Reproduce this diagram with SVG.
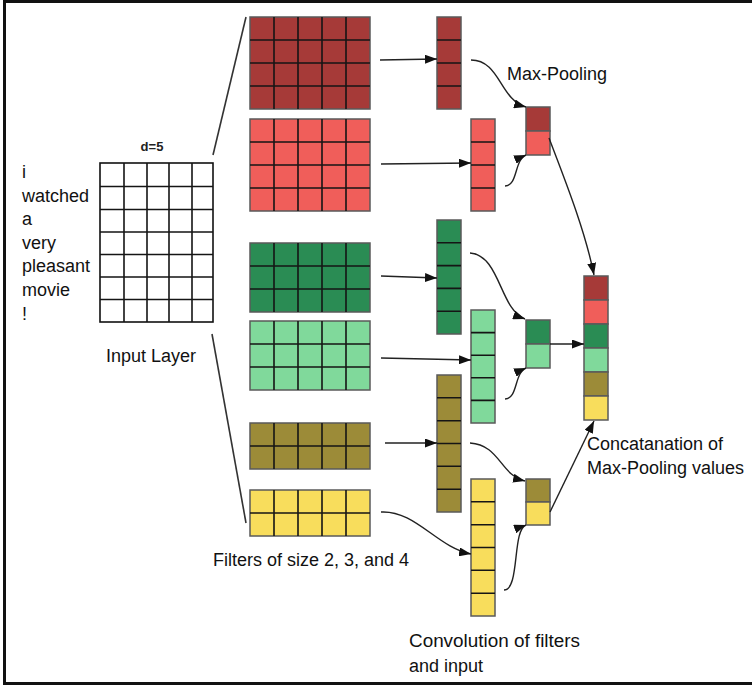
<svg xmlns="http://www.w3.org/2000/svg" width="752" height="687" viewBox="0 0 752 687">
<style>
.t{font-family:"Liberation Sans",Arial,sans-serif;font-size:18px;fill:#111}
.d5{font-family:"Liberation Sans",Arial,sans-serif;font-size:13px;font-weight:bold;fill:#222}
.cell{stroke:#5a5a5a;stroke-width:1.5}
.grid{stroke:#151515;stroke-width:1.6;fill:none}
.dr{fill:#a63a38}.lr{fill:#f05e5a}.dg{fill:#2a8c54}.lg{fill:#80d99b}.ol{fill:#9c8b38}.ye{fill:#f8dd5c}
.inp{fill:#fff;stroke:#111;stroke-width:1.6}
.conn{fill:none;stroke:#222;stroke-width:1.4}
.lead{fill:none;stroke:#333;stroke-width:1.6}
</style>
<defs>
<marker id="ah" markerUnits="userSpaceOnUse" markerWidth="13" markerHeight="9" refX="12" refY="4.5" orient="auto">
<path d="M0,0 L12,4.5 L0,9 z" fill="#111"/>
</marker>
</defs>
<rect width="752" height="687" fill="#fff"/>
<rect x="4.5" y="1.5" width="760" height="682" fill="none" stroke="#111" stroke-width="3"/>

<g id="input-layer">
<rect class="inp" x="100" y="163" width="113" height="159"/>
<path class="grid" d="M124,163V322M147,163V322M169,163V322M192,163V322M100,186.5H213M100,209.5H213M100,232H213M100,254.5H213M100,277H213M100,299.5H213"/>
<text class="d5" x="152" y="151" text-anchor="middle">d=5</text>
<text class="t" x="22" y="178">i</text>
<text class="t" x="22" y="201.5">watched</text>
<text class="t" x="22" y="225">a</text>
<text class="t" x="22" y="248.5">very</text>
<text class="t" x="22" y="272">pleasant</text>
<text class="t" x="22" y="296">movie</text>
<text class="t" x="22" y="320">!</text>
<text class="t" x="106" y="362">Input Layer</text>
</g>

<g id="filter-dark-red">
<rect class="dr cell" x="250" y="17" width="120" height="92"/>
<path class="grid" d="M274,17V109M298,17V109M322,17V109M346,17V109M250,40H370M250,63H370M250,86H370"/>
</g>
<g id="filter-light-red">
<rect class="lr cell" x="250" y="119" width="120" height="92"/>
<path class="grid" d="M274,119V211M298,119V211M322,119V211M346,119V211M250,142H370M250,165H370M250,188H370"/>
</g>
<g id="filter-dark-green">
<rect class="dg cell" x="250" y="243" width="120" height="69"/>
<path class="grid" d="M274,243V312M298,243V312M322,243V312M346,243V312M250,266H370M250,289H370"/>
</g>
<g id="filter-light-green">
<rect class="lg cell" x="250" y="321" width="120" height="69"/>
<path class="grid" d="M274,321V390M298,321V390M322,321V390M346,321V390M250,344H370M250,367H370"/>
</g>
<g id="filter-olive">
<rect class="ol cell" x="250" y="423" width="120" height="46"/>
<path class="grid" d="M274,423V469M298,423V469M322,423V469M346,423V469M250,446H370"/>
</g>
<g id="filter-yellow">
<rect class="ye cell" x="250" y="490" width="120" height="46"/>
<path class="grid" d="M274,490V536M298,490V536M322,490V536M346,490V536M250,513H370"/>
</g>
<g id="filters-label">
<text class="t" x="213" y="566">Filters of size 2, 3, and 4</text>
</g>

<g id="conv-dark-red">
<rect class="dr cell" x="437" y="17" width="24" height="92"/>
<path class="grid" d="M437,40H461M437,63H461M437,86H461"/>
</g>
<g id="conv-light-red">
<rect class="lr cell" x="471" y="119" width="24" height="92"/>
<path class="grid" d="M471,142H495M471,165H495M471,188H495"/>
</g>
<g id="conv-dark-green">
<rect class="dg cell" x="437" y="220" width="24" height="114"/>
<path class="grid" d="M437,242.8H461M437,265.6H461M437,288.4H461M437,311.2H461"/>
</g>
<g id="conv-light-green">
<rect class="lg cell" x="471" y="310" width="24" height="113"/>
<path class="grid" d="M471,332.6H495M471,355.2H495M471,377.8H495M471,400.4H495"/>
</g>
<g id="conv-olive">
<rect class="ol cell" x="437" y="375" width="24" height="137"/>
<path class="grid" d="M437,397.8H461M437,420.7H461M437,443.5H461M437,466.3H461M437,489.2H461"/>
</g>
<g id="conv-yellow">
<rect class="ye cell" x="471" y="479" width="24" height="137"/>
<path class="grid" d="M471,501.8H495M471,524.7H495M471,547.5H495M471,570.3H495M471,593.2H495"/>
</g>
<g id="conv-label">
<text class="t" x="409" y="647" textLength="171" lengthAdjust="spacingAndGlyphs">Convolution of filters</text>
<text class="t" x="409" y="672">and input</text>
</g>

<g id="pool-red">
<rect class="dr cell" x="526" y="107" width="24" height="24"/>
<rect class="lr cell" x="526" y="131" width="24" height="24"/>
</g>
<g id="pool-green">
<rect class="dg cell" x="526" y="320" width="24" height="24"/>
<rect class="lg cell" x="526" y="344" width="24" height="24"/>
</g>
<g id="pool-yellow">
<rect class="ol cell" x="526" y="479" width="24" height="23"/>
<rect class="ye cell" x="526" y="502" width="24" height="23"/>
</g>
<g id="pool-label">
<text class="t" x="507" y="80">Max-Pooling</text>
</g>

<g id="concat">
<rect class="dr cell" x="584" y="276" width="24" height="24"/>
<rect class="lr cell" x="584" y="300" width="24" height="24"/>
<rect class="dg cell" x="584" y="324" width="24" height="24"/>
<rect class="lg cell" x="584" y="348" width="24" height="24"/>
<rect class="ol cell" x="584" y="372" width="24" height="24"/>
<rect class="ye cell" x="584" y="396" width="24" height="24"/>
<text class="t" x="587" y="450">Concatanation of</text>
<text class="t" x="587" y="474">Max-Pooling values</text>
</g>

<g id="connectors">
<path class="lead" d="M213,155 L246,17"/>
<path class="lead" d="M212,334 L246,523"/>
<path class="conn" marker-end="url(#ah)" d="M380,60 L437,59"/>
<path class="conn" marker-end="url(#ah)" d="M381,164 L471,163"/>
<path class="conn" marker-end="url(#ah)" d="M381,276 L437,278"/>
<path class="conn" marker-end="url(#ah)" d="M381,358 L471,360"/>
<path class="conn" marker-end="url(#ah)" d="M385,443 L437,443"/>
<path class="conn" marker-end="url(#ah)" d="M381,512 C415,510 438,548 471,554"/>
<path class="conn" marker-end="url(#ah)" d="M471,60 C500,60 500,100 526,107"/>
<path class="conn" marker-end="url(#ah)" d="M505,186 C518,186 514,160 526,155"/>
<path class="conn" marker-end="url(#ah)" d="M470,253 C500,255 500,310 525,319"/>
<path class="conn" marker-end="url(#ah)" d="M505,399 C518,399 514,373 526,368"/>
<path class="conn" marker-end="url(#ah)" d="M470,443 C500,445 500,475 525,481"/>
<path class="conn" marker-end="url(#ah)" d="M504,590 C520,590 512,530 526,525"/>
<path class="conn" marker-end="url(#ah)" d="M549,138 C565,180 585,230 594,275"/>
<path class="conn" marker-end="url(#ah)" d="M550,344 L584,344"/>
<path class="conn" marker-end="url(#ah)" d="M550,512 L594,421"/>
</g>
</svg>
